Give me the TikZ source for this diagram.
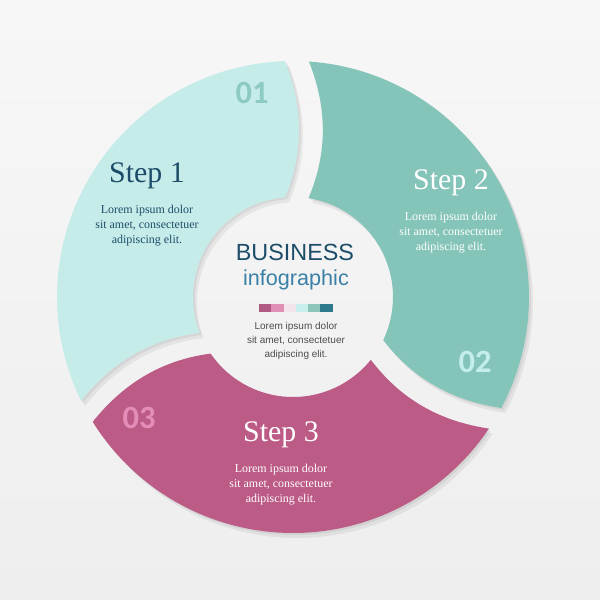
\documentclass[tikz,border=0pt]{standalone}
\usepackage{fontspec}
\setmainfont{Liberation Serif}
\setsansfont{Liberation Sans}
\newfontfamily\numfont{Carlito}
\usetikzlibrary{positioning}
\definecolor{igTop}{HTML}{F7F7F7}
\definecolor{igBottom}{HTML}{EEEEEF}
\definecolor{igCyan}{HTML}{C6ECEA}
\definecolor{igTeal}{HTML}{85C4B8}
\definecolor{igRose}{HTML}{BB5B86}
\definecolor{igNavy}{HTML}{1D4C68}
\definecolor{igBlue}{HTML}{3B80A6}
\definecolor{igGrey}{HTML}{4D4D4D}
\definecolor{igNumA}{HTML}{8DCAC0}
\definecolor{igNumB}{HTML}{C4EEEA}
\definecolor{igNumC}{HTML}{E48DB8}
\definecolor{igBarA}{HTML}{B05A82}
\definecolor{igBarB}{HTML}{E08FB5}
\definecolor{igBarC}{HTML}{F3E3EB}
\definecolor{igBarD}{HTML}{C8EFEC}
\definecolor{igBarE}{HTML}{8CC6BB}
\definecolor{igBarF}{HTML}{2C7A8C}
\tikzset{
  igstep/.style={font=\fontsize{17}{20}\selectfont, inner sep=0pt},
  iglorem/.style={font=\fontsize{6.8}{8.8}\selectfont, align=center, inner sep=0pt},
  ignum/.style={font=\numfont\bfseries\fontsize{18.5}{18.5}\selectfont, inner sep=0pt},
  igshadow/.style={fill=black, opacity=0.06},
}
% one ring piece, the others are rotated copies
\newcommand{\igpiece}{(91.94:236) arc[start angle=91.94, end angle=206.12, radius=236]
  .. controls (199.85:193) and (196.43:149.2) .. (201.08:100)
  arc[start angle=201.08, end angle=94.48, radius=100]
  .. controls (85.66:145.4) and (86.99:190.3) .. (91.94:236) -- cycle}

\begin{document}
\begin{tikzpicture}[x=0.02cm, y=0.02cm]
\useasboundingbox (0,0) rectangle (600,600);
\fill[top color=igTop, bottom color=igBottom] (0,0) rectangle (600,600);

\foreach \rot/\col in {0/igCyan, -120/igTeal, -240/igRose} {
  \begin{scope}[shift={(297,298)}, rotate=\rot]
    \fill[igshadow] \igpiece;
  \end{scope}
  \begin{scope}[shift={(295,301)}, rotate=\rot]
    \fill[igshadow] \igpiece;
  \end{scope}
  \begin{scope}[shift={(293,303)}, rotate=\rot]
    \fill[\col] \igpiece;
  \end{scope}
}

\node[ignum, text=igNumA] (num1) at (252,507) {01};
\node[ignum, text=igNumB] (num2) at (475,238) {02};
\node[ignum, text=igNumC] (num3) at (139,182) {03};

\node[igstep, text=igNavy] (step1) at (147,424) {Step 1};
\node[iglorem, text=igNavy, below=0.3cm of step1] (lorem1) {Lorem ipsum dolor\\sit amet, consectetuer\\adipiscing elit.};
\node[igstep, text=white] (step2) at (451,417) {Step 2};
\node[iglorem, text=white, below=0.3cm of step2] (lorem2) {Lorem ipsum dolor\\sit amet, consectetuer\\adipiscing elit.};
\node[igstep, text=white] (step3) at (281,165) {Step 3};
\node[iglorem, text=white, below=0.3cm of step3] (lorem3) {Lorem ipsum dolor\\sit amet, consectetuer\\adipiscing elit.};

\node[font=\sffamily\fontsize{13.3}{15}\selectfont, text=igNavy, inner sep=0pt] (title) at (295,348) {BUSINESS};
\node[font=\sffamily\fontsize{12.3}{14}\selectfont, text=igBlue, inner sep=0pt] (subtitle) at (296,320) {infographic};
\foreach \c [count=\i] in {igBarA, igBarB, igBarC, igBarD, igBarE, igBarF}
  \fill[\c] ({259+12.3*(\i-1)},288) rectangle ++(12.3,8);
\node[font=\sffamily\fontsize{5.7}{7.9}\selectfont, text=igGrey, align=center, inner sep=0pt] (lorem0) at (296,259) {Lorem ipsum dolor\\sit amet, consectetuer\\adipiscing elit.};
\end{tikzpicture}
\end{document}
